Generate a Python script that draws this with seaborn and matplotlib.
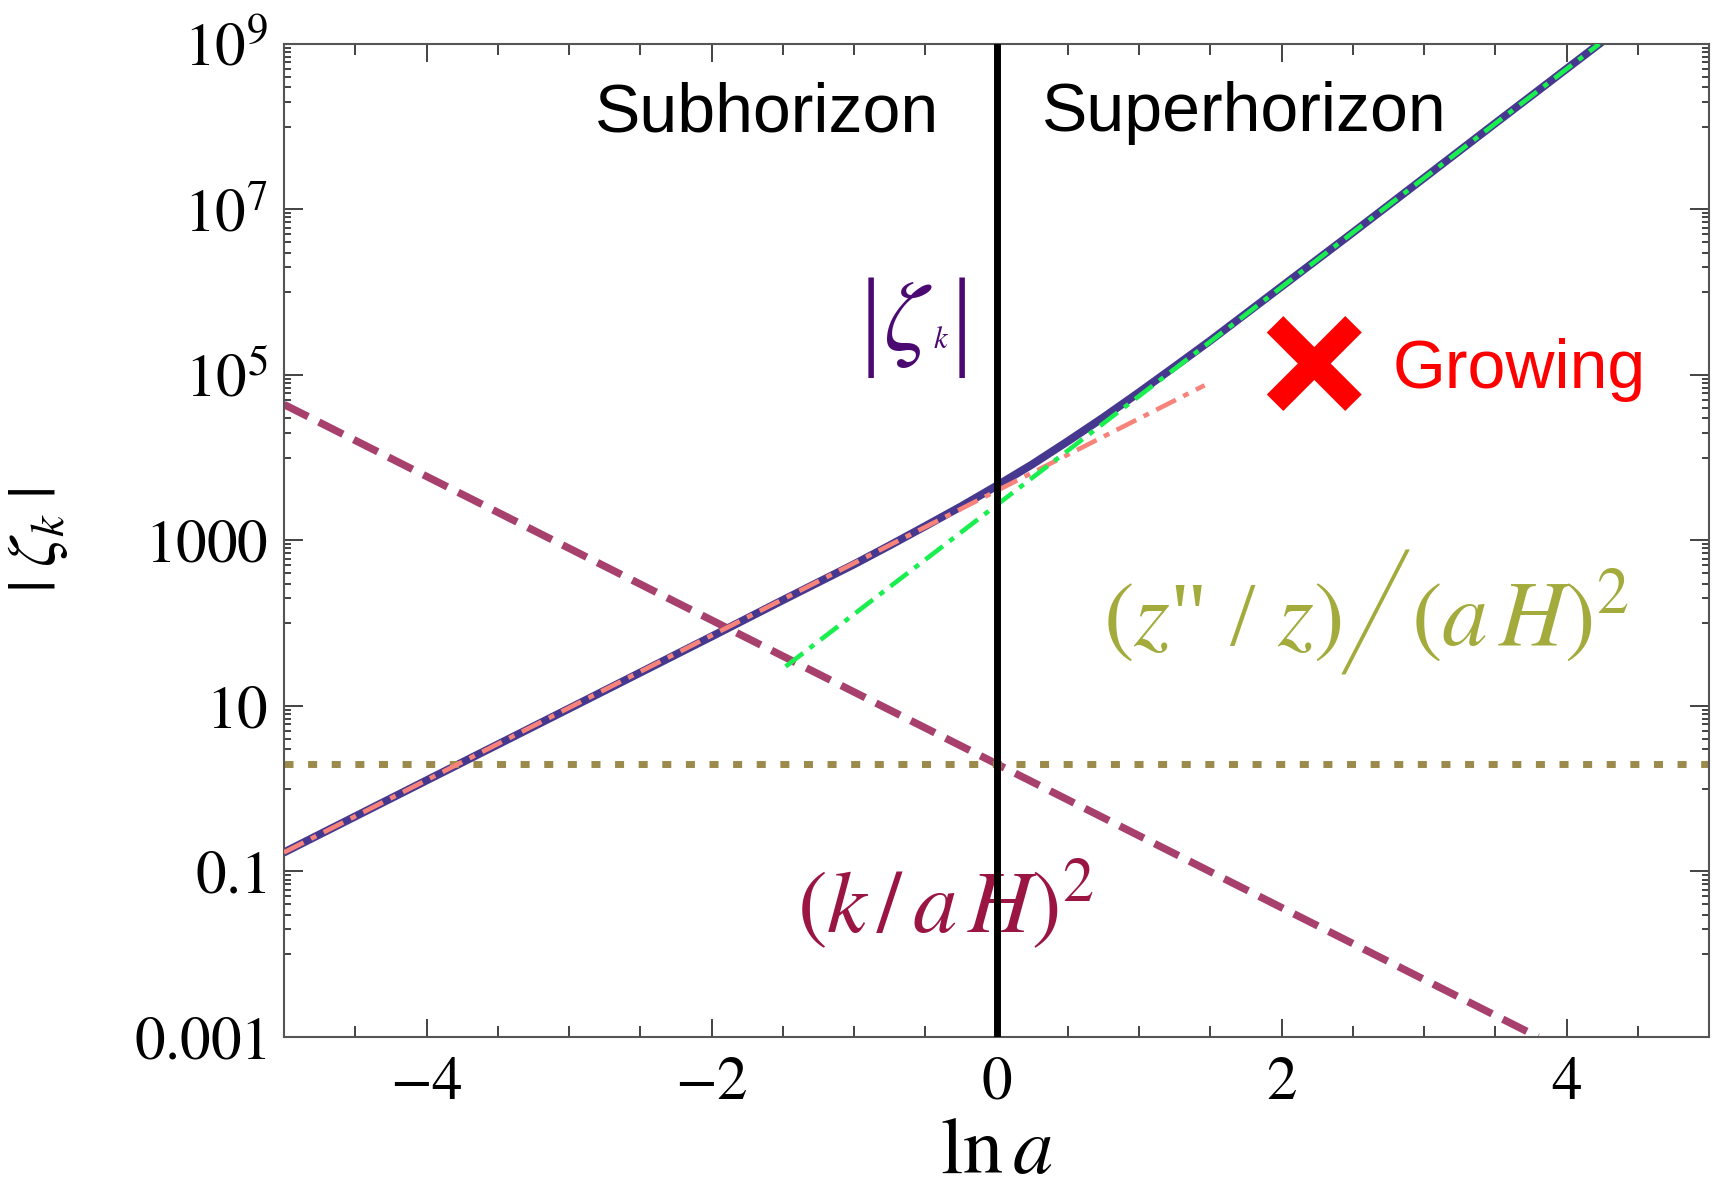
import numpy as np
import matplotlib
matplotlib.use("Agg")
import matplotlib.pyplot as plt
import matplotlib.patheffects as pe
import seaborn as sns

sns.set_style("ticks")
plt.rcParams["mathtext.fontset"] = "stix"
plt.rcParams["font.family"] = ["Liberation Serif", "DejaVu Serif"]
plt.rcParams["text.color"] = "black"

# |zeta_k|
zeta_x = [-5, -4, -3, -2, -1.5, -1, -0.75, -0.5, -0.25, 0, 0.25, 0.5, 0.75,
          1, 1.25, 1.5, 2, 2.5, 3, 3.5, 4, 4.3]
zeta_y = [0.17, 1.26, 9.3, 69, 190, 515, 870, 1490, 2570, 4570, 8300, 15800, 30700,
          61600, 1.26e5, 2.6e5, 1.17e6, 5.25e6, 2.4e7, 1.1e8, 5.0e8, 1.24e9]

# subhorizon asymptote (pink dash-dot)
sub_x = [-5, 1.46]
sub_y = [0.17, 7.5e4]

# superhorizon asymptote (green dash-dot)
sup_x = [-1.48, 4.23]
sup_y = [30, 1e9]

# (k/aH)^2
kah_x = [-5, 3.8]
kah_y = [4.4e4, 1e-3]

# (z''/z)/(aH)^2
zz_x = [-5, 5]
zz_y = [2, 2]

xticks_major = [-4, -2, 0, 2, 4]
xtick_labels = ["$-4$", "$-2$", "$0$", "$2$", "$4$"]
yticks_major = [1e-3, 1e-1, 1e1, 1e3, 1e5, 1e7, 1e9]
ytick_labels = ["$0.001$", "$0.1$", "$10$", "$1000$", "$10^{5}$", "$10^{7}$", "$10^{9}$"]

c_zeta = "#46388f"
c_sub = "#f7837a"
c_sup = "#19ef4f"
c_kah = "#a8406e"
c_zz = "#9b8a4b"

fig = plt.figure(figsize=(17.14, 11.98), dpi=100)
ax = fig.add_axes([0.1657, 0.1344, 0.8314, 0.8289])

sns.lineplot(x=zeta_x, y=zeta_y, ax=ax, color=c_zeta, lw=5.8, zorder=2)
sns.lineplot(x=kah_x, y=kah_y, ax=ax, color=c_kah, lw=5.4, zorder=2.1)
ax.lines[-1].set_dashes((3.6, 1.6))
sns.lineplot(x=zz_x, y=zz_y, ax=ax, color=c_zz, lw=5.0, zorder=2.2)
ax.lines[-1].set_dashes((1.3, 2.1))
sns.lineplot(x=sub_x, y=sub_y, ax=ax, color=c_sub, lw=3.3, zorder=3)
ax.lines[-1].set_dashes((4.8, 1.8, 1.3, 1.8))
sns.lineplot(x=sup_x, y=sup_y, ax=ax, color=c_sup, lw=3.3, zorder=3.1)
ax.lines[-1].set_dashes((4.8, 1.8, 1.2, 1.8))
ax.axvline(0, color="black", lw=5.0, zorder=5)

ax.set_yscale("log")
ax.set_xlim(-5, 5)
ax.set_ylim(1e-3, 1e9)

ax.set_xticks(xticks_major)
ax.set_xticklabels(xtick_labels)
ax.set_xticks(np.arange(-5, 5.01, 0.5), minor=True)
ax.set_yticks(yticks_major)
ax.set_yticklabels(ytick_labels)
ax.set_yticks([k * 10.0 ** m for m in (-2, 0, 2, 4, 6, 8) for k in range(1, 10)], minor=True)
ax.yaxis.set_minor_formatter(matplotlib.ticker.NullFormatter())

ax.tick_params(axis="both", which="both", direction="in", top=True, right=True,
               width=1.2, color="#222222", labelsize=44, labelcolor="black")
ax.tick_params(axis="x", which="major", length=13, pad=14)
ax.tick_params(axis="x", which="minor", length=8)
ax.tick_params(axis="y", which="major", length=14, pad=12)
ax.tick_params(axis="y", which="minor", length=5)
for sp in ax.spines.values():
    sp.set_color("#555555")
    sp.set_linewidth(1.5)

ax.set_xlabel(r"$\mathrm{ln}\,a$", fontsize=58, labelpad=4, color="black")
ax.set_ylabel(r"$|\;\zeta_k\;|$", fontsize=48, color="black")
ax.yaxis.set_label_coords(-0.150, 0.5)

# region labels
ax.text(0.460, 0.912, "Subhorizon", transform=ax.transAxes, ha="right", va="baseline",
        fontsize=49, family="Liberation Sans", color="black")
ax.text(0.532, 0.912, "Superhorizon", transform=ax.transAxes, ha="left", va="baseline",
        fontsize=49, family="Liberation Sans", color="black")

# |zeta_k| label in the plot
c_lab = "#4b0a72"
ax.text(0.412, 0.714, "|", transform=ax.transAxes, ha="center", va="center",
        fontsize=80, color=c_lab, family="Liberation Serif")
ax.text(0.438, 0.716, r"$\zeta$", transform=ax.transAxes, ha="center", va="center",
        fontsize=72, color=c_lab)
ax.text(0.4612, 0.701, "$k$", transform=ax.transAxes, ha="center", va="center",
        fontsize=22, color=c_lab)
ax.text(0.4755, 0.714, "|", transform=ax.transAxes, ha="center", va="center",
        fontsize=80, color=c_lab, family="Liberation Serif")

# growing mark
ax.text(0.723, 0.666, "\u2715", transform=ax.transAxes, ha="center", va="center",
        fontsize=100, color="red", family="DejaVu Sans",
        path_effects=[pe.withStroke(linewidth=7, foreground="red",
                                    capstyle="butt", joinstyle="miter")])
ax.text(0.778, 0.654, "Growing", transform=ax.transAxes, ha="left", va="baseline",
        fontsize=49, color="red", family="Liberation Sans")

# (z''/z)/(aH)^2
c_zzt = "#a2ab3c"
ax.text(0.742, 0.3948, r'$(z$" / $z)$', transform=ax.transAxes, ha="right", va="baseline",
        fontsize=66, color=c_zzt)
ax.text(0.766, 0.428, "\u2571", transform=ax.transAxes, ha="center", va="center",
        fontsize=80, color=c_zzt, family="DejaVu Sans",
        path_effects=[pe.Normal(), pe.Stroke(linewidth=3.5, foreground="white")])
ax.text(0.791, 0.3948, r"$(a\,H)^2$", transform=ax.transAxes, ha="left", va="baseline",
        fontsize=66, color=c_zzt)

# (k/aH)^2
ax.text(0.464, 0.1057, r"$(k\,/\,a\,H)^2$", transform=ax.transAxes, ha="center", va="baseline",
        fontsize=64, color="#9b1542", zorder=3)

fig.savefig("out.png", dpi=100)
